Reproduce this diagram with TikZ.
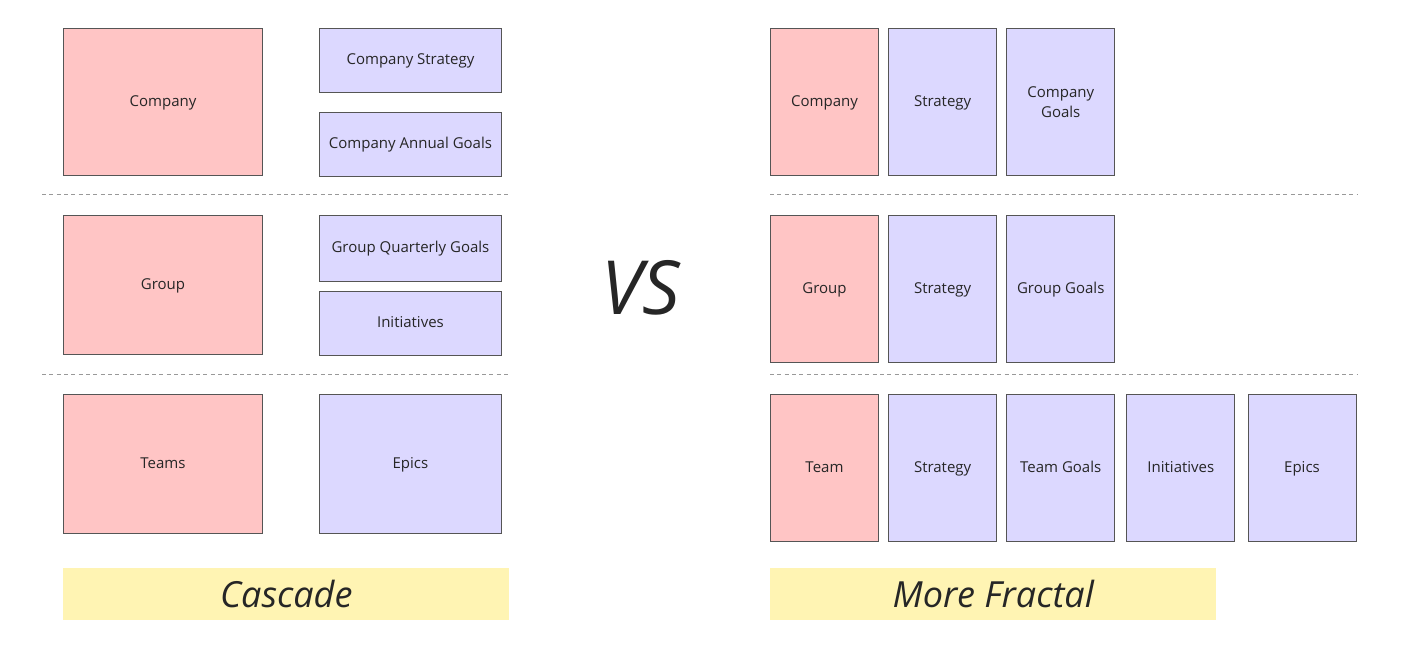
\documentclass[tikz,border=0pt]{standalone}
\usepackage{fontspec}
\setmainfont{Open Sans}
\usetikzlibrary{positioning}
\definecolor{unitred}{HTML}{FFC5C5}
\definecolor{itemblue}{HTML}{DCD8FF}
\definecolor{bandyellow}{HTML}{FFF4B3}
\definecolor{edgegray}{HTML}{555555}
\tikzstyle{unit} = [rectangle, draw=edgegray, line width=0.7pt, fill=unitred, align=center, inner sep=0pt, text height=1.6ex, text depth=0.45ex, anchor=north west]
\tikzstyle{item} = [rectangle, draw=edgegray, line width=0.7pt, fill=itemblue, align=center, inner sep=0pt, text height=1.6ex, text depth=0.45ex]
\tikzstyle{band} = [rectangle, fill=bandyellow, inner sep=0pt, minimum width=334.5pt, minimum height=39pt, anchor=north west, font=\fontsize{27}{30}\selectfont\itshape]
\tikzstyle{divider} = [dashed, draw=gray!80, line width=0.6pt, dash pattern=on 3pt off 2.5pt]
\tikzset{
	tall/.style = {minimum width=81pt, minimum height=110.25pt},
	wide/.style = {minimum width=136.5pt, minimum height=48pt}
}

\begin{document}
\begin{tikzpicture}[x=0.75pt, y=-0.75pt, node distance=6.9pt, font=\fontsize{11.25}{15}\selectfont, text=black!85]
\useasboundingbox (0,0) rectangle (1410,660);

% Cascade side
\node (company) [unit, minimum width=149.25pt, minimum height=110.25pt] at (63,28) {Company};
\node (compStrat) [item, wide, anchor=north west] at (319,28) {Company Strategy};
\node (compGoals) [item, wide, below=14.25pt of compStrat] {Company Annual Goals};

\node (group) [unit, minimum width=149.25pt, minimum height=104.25pt] at (63,215) {Group};
\node (grpGoals) [item, wide, minimum height=49.5pt, anchor=north west] at (319,215) {Group Quarterly Goals};
\node (grpInit) [item, wide, below=6.75pt of grpGoals] {Initiatives};

\node (teams) [unit, minimum width=149.25pt, minimum height=104.25pt] at (63,394) {Teams};
\node (teamEpics) [item, minimum width=136.5pt, minimum height=104.25pt, anchor=north west] at (319,394) {Epics};

\node (cascade) [band] at (63,568) {Cascade};

% VS
\node (vs) [font=\fontsize{56}{60}\selectfont\itshape] at (641,288) {VS};

% More Fractal side
\node (fCompany) [unit, tall] at (770,28) {Company};
\node (fCompStrat) [item, tall, right=of fCompany] {Strategy};
\node (fCompGoals) [item, tall, right=of fCompStrat, text height=, text depth=] {Company\\Goals};

\node (fGroup) [unit, tall] at (770,215) {Group};
\node (fGrpStrat) [item, tall, right=of fGroup] {Strategy};
\node (fGrpGoals) [item, tall, right=of fGrpStrat] {Group Goals};

\node (fTeam) [unit, tall] at (770,394) {Team};
\node (fTeamStrat) [item, tall, right=of fTeam] {Strategy};
\node (fTeamGoals) [item, tall, right=of fTeamStrat] {Team Goals};
\node (fTeamInit) [item, tall, right=8.4pt of fTeamGoals] {Initiatives};
\node (fTeamEpics) [item, tall, right=9.15pt of fTeamInit] {Epics};

\node (fractal) [band] at (770,568) {More Fractal};

% Level dividers
\draw [divider] (42,194) -- (511,194);
\draw [divider] (42,374) -- (511,374);
\draw [divider] (770,194) -- (1357,194);
\draw [divider] (770,374) -- (1357,374);

\end{tikzpicture}
\end{document}
